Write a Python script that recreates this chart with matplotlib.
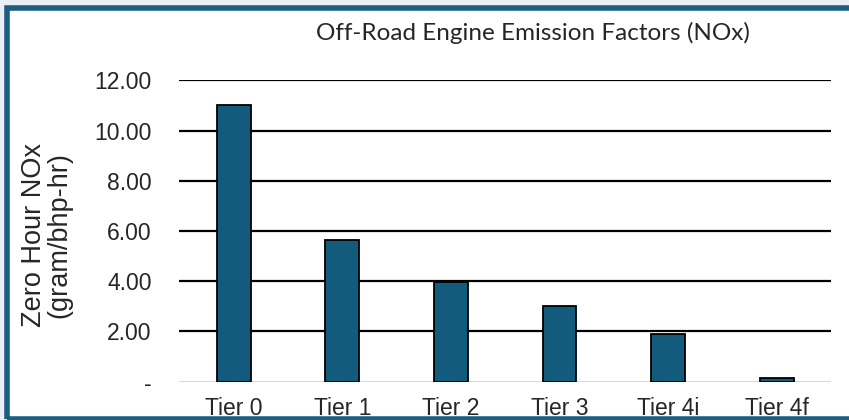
import matplotlib.pyplot as plt
import matplotlib.patches as patches
import numpy as np

# chart data
tiers = ["Tier 0", "Tier 1", "Tier 2", "Tier 3", "Tier 4i", "Tier 4f"]
nox = [11.0, 5.65, 3.95, 3.0, 1.89, 0.13]
y_ticks = [0, 2, 4, 6, 8, 10, 12]
y_tick_labels = ["-", "2.00", "4.00", "6.00", "8.00", "10.00", "12.00"]

bar_color = "#135b7d"
frame_color = "#1b5e82"

fig = plt.figure(figsize=(8.49, 4.20), dpi=100)
fig.patch.set_facecolor("#e9eff5")

# white panel with blue frame
panel = patches.Rectangle((4.5 / 849, 1 - 418.5 / 420), 1.2, 412 / 420,
                          transform=fig.transFigure, facecolor="white",
                          edgecolor="none", zorder=-10)
fig.patches.append(panel)
frame = patches.Rectangle((6.5 / 849, 1 - 418.5 / 420), 1.2, 410.5 / 420,
                          transform=fig.transFigure, facecolor="none",
                          edgecolor=frame_color, linewidth=4, zorder=10)
fig.patches.append(frame)

ax = fig.add_axes([179.4 / 849, 38.5 / 420, (831 - 179.4) / 849, (381.5 - 80.3) / 420])
ax.set_facecolor("white")

x = np.arange(len(tiers))
ax.bar(x, nox, width=0.31, color=bar_color, edgecolor="black", linewidth=1.3, zorder=3)

ax.set_xlim(-0.5, len(tiers) - 0.5)
ax.set_ylim(0, 12)
ax.set_yticks(y_ticks)
ax.set_yticklabels(y_tick_labels)
ax.set_xticks(x)
ax.set_xticklabels(tiers)

# gridlines
for t in y_ticks[1:]:
    ax.axhline(t, color="black", linewidth=1.6, zorder=1)
ax.axhline(0, color="#d9d9d9", linewidth=1.5, zorder=2)

for s in ax.spines.values():
    s.set_visible(False)
ax.tick_params(axis="both", length=0, labelsize=16.5, colors="#262626")
ax.tick_params(axis="y", pad=20)
ax.tick_params(axis="x", pad=11.5)
for lbl in ax.get_xticklabels() + ax.get_yticklabels():
    lbl.set_fontfamily("Liberation Sans")

fig.text(47 / 849, 1 - 235 / 420, "Zero Hour NOx\n(gram/bhp-hr)", rotation=90,
         ha="center", va="center", fontsize=19.5, family="Liberation Sans",
         color="#262626", linespacing=0.95)

fig.text(533 / 849, 1 - 33 / 420, "Off-Road Engine Emission Factors (NOx)",
         ha="center", va="center", fontsize=17.5, family="Lato", color="#262626")

fig.savefig("out.png", dpi=100, facecolor=fig.get_facecolor())
